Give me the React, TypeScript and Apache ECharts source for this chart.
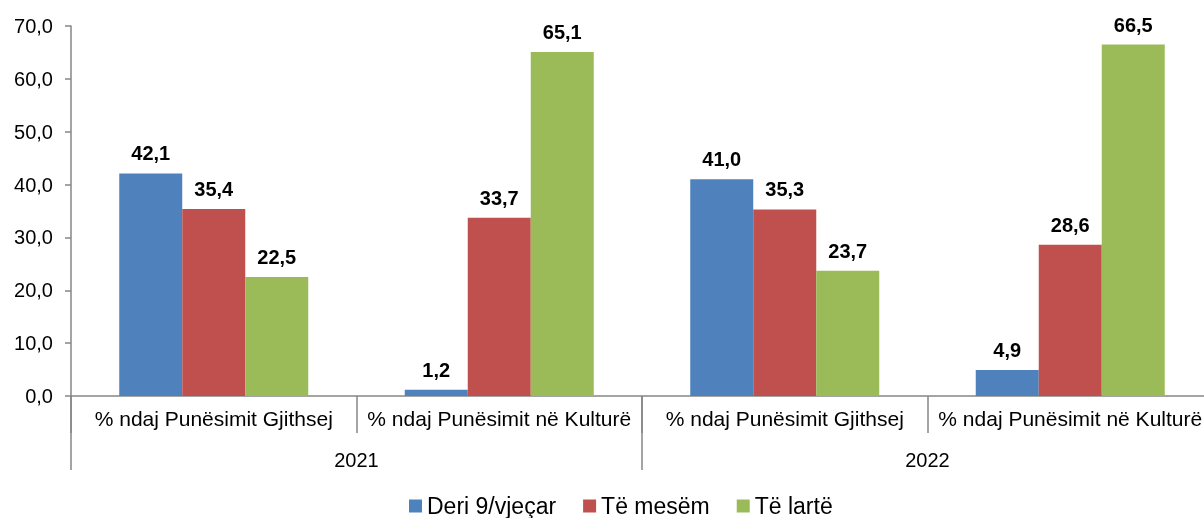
import React, { useEffect, useRef } from "react";
import * as echarts from "echarts";

const categories = [
  "% ndaj Punësimit Gjithsej",
  "% ndaj Punësimit në Kulturë",
  "% ndaj Punësimit Gjithsej",
  "% ndaj Punësimit në Kulturë",
];
const years = ["2021", "2022"];
const seriesNames = ["Deri 9/vjeçar", "Të mesëm", "Të lartë"];
const deri9 = [42.1, 1.2, 41.0, 4.9];
const teMesem = [35.4, 33.7, 35.3, 28.6];
const teLarte = [22.5, 65.1, 23.7, 66.5];
const colors = ["#4F81BD", "#C0504D", "#9BBB59"];

const FONT = "'Liberation Sans', Arial, sans-serif";
const fmt = (v: number) => v.toFixed(1).replace(".", ",");

export default function App() {
  const ref = useRef<HTMLDivElement>(null);
  useEffect(() => {
    if (!ref.current) return;
    const chart = echarts.init(ref.current, null, { renderer: "svg" });
    const values = [deri9, teMesem, teLarte];
    chart.setOption({
      animation: false,
      textStyle: { fontFamily: FONT },
      grid: {
        left: 71,
        top: 26,
        width: 1142,
        height: 370,
        containLabel: false,
        outerBoundsMode: "none",
      },
      legend: {
        data: seriesNames,
        left: 404,
        top: 489,
        itemWidth: 13,
        itemHeight: 13,
        itemGap: 27,
        icon: "rect",
        textStyle: { fontSize: 23, lineHeight: 24, color: "#000", fontFamily: FONT },
      },
      xAxis: [
        {
          type: "category",
          data: categories,
          position: "bottom",
          axisLine: { show: true, lineStyle: { color: "#868686", width: 1.5 } },
          axisTick: { show: true, length: 37, lineStyle: { color: "#868686", width: 1.5 } },
          axisLabel: { interval: 0, margin: 12, fontSize: 21, color: "#000", fontFamily: FONT },
        },
        {
          type: "category",
          data: years,
          position: "bottom",
          axisLine: { show: false },
          axisTick: { show: true, length: 74, lineStyle: { color: "#868686", width: 1.5 } },
          axisLabel: { interval: 0, margin: 54, fontSize: 20, color: "#000", fontFamily: FONT },
        },
      ],
      yAxis: {
        type: "value",
        min: 0,
        max: 70,
        interval: 10,
        axisLine: { show: true, lineStyle: { color: "#868686", width: 1.5 } },
        axisTick: { show: true, length: 6, lineStyle: { color: "#868686", width: 1.5 } },
        splitLine: { show: false },
        axisLabel: { margin: 18, fontSize: 20, color: "#000", fontFamily: FONT, formatter: (v: number) => fmt(v) },
      },
      series: seriesNames.map((name, i) => ({
        name,
        type: "bar",
        xAxisIndex: 0,
        data: values[i],
        barGap: "0%",
        barCategoryGap: "33.8%",
        itemStyle: { color: colors[i] },
        label: {
          show: true,
          position: "top",
          distance: 10,
          fontSize: 20,
          fontWeight: "bold",
          color: "#000",
          fontFamily: FONT,
          formatter: (p: any) => fmt(p.value),
        },
      })),
    });
    return () => chart.dispose();
  }, []);
  return <div ref={ref} style={{ position: "fixed", left: 0, top: 0, width: 1204, height: 518 }} />;
}
